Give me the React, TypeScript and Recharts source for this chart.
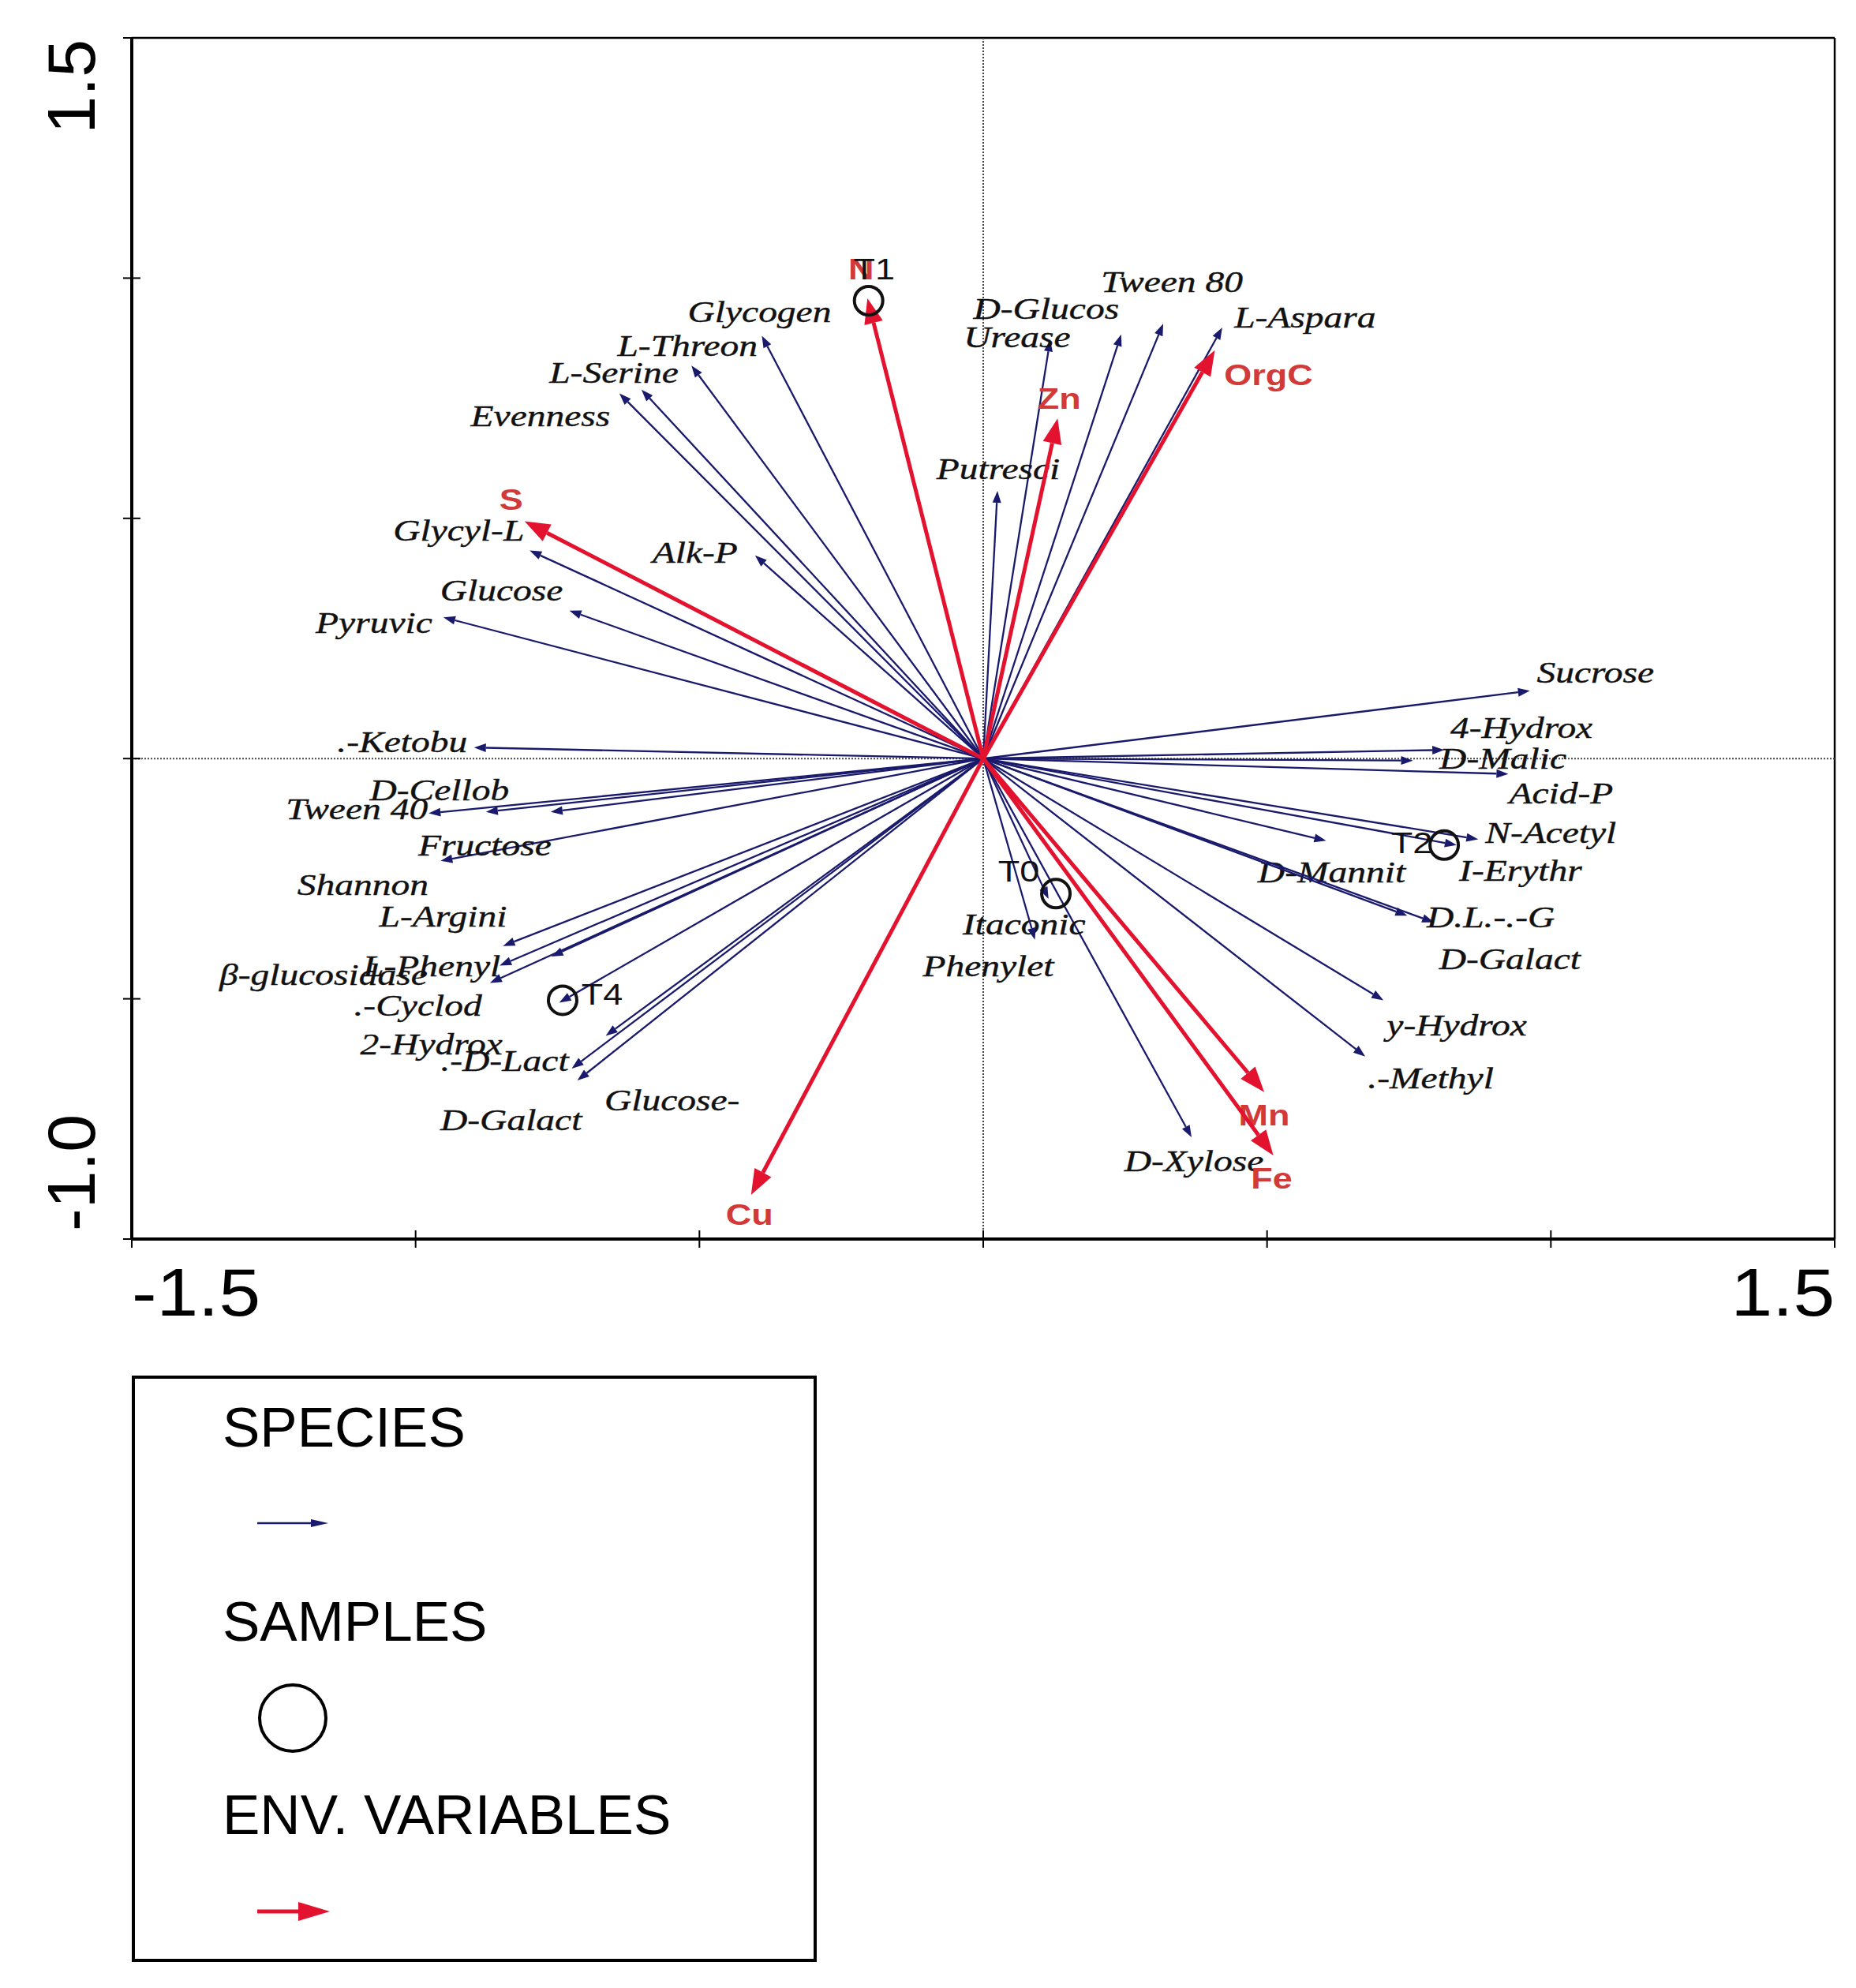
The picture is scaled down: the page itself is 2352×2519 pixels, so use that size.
import React from 'react'
import { ScatterChart, Scatter, XAxis, YAxis, ReferenceLine } from 'recharts'

document.body.style.margin = '0'

const WIDTH = 2352
const HEIGHT = 2519

// species scores (blue arrows)
const speciesNames = [
  'Glycogen', 'L-Threon', 'L-Serine', 'Evenness', 'Glycyl-L', 'Alk-P', 'Glucose', 'Pyruvic',
  '.-Ketobu', 'D-Cellob', 'Tween 40', 'Fructose', 'Shannon', 'L-Argini', 'L-Phenyl', 'β-glucosidase',
  '.-Cyclod', '2-Hydrox', '.-D-Lact', 'Glucose-', 'D-Galact', 'Urease', 'D-Glucos', 'Tween 80',
  'L-Aspara', 'Putresci', 'Sucrose', '4-Hydrox', 'D-Malic', 'Acid-P', 'N-Acetyl', 'I-Erythr',
  'D-Mannit', 'D.L.-.-G', 'D-Galact', 'y-Hydrox', '.-Methyl', 'D-Xylose', 'Itaconic', 'Phenylet',
]
const speciesX = [
  -0.390, -0.514, -0.602, -0.641, -0.799, -0.402, -0.729, -0.951,
  -0.897, -0.876, -0.977, -0.956, -0.762, -0.846, -0.852, -0.869,
  -0.761, -0.747, -0.725, -0.665, -0.715, 0.118, 0.243, 0.317,
  0.421, 0.025, 0.963, 0.812, 0.757, 0.925, 0.872, 0.834,
  0.604, 0.794, 0.747, 0.705, 0.673, 0.367, 0.115, 0.091,
]
const speciesY = [
  0.880, 0.818, 0.768, 0.760, 0.433, 0.423, 0.308, 0.294,
  0.023, -0.111, -0.114, -0.213, -0.111, -0.390, -0.431, -0.467,
  -0.412, -0.508, -0.645, -0.577, -0.670, 0.872, 0.883, 0.905,
  0.897, 0.557, 0.141, 0.018, -0.004, -0.032, -0.168, -0.180,
  -0.171, -0.341, -0.327, -0.503, -0.620, -0.788, -0.292, -0.377,
]

// environmental variables (red arrows)
const envNames = ['N', 'Zn', 'OrgC', 'S', 'Cu', 'Mn', 'Fe']
const envX = [-0.204, 0.131, 0.408, -0.808, -0.409, 0.495, 0.511]
const envY = [0.958, 0.708, 0.850, 0.494, -0.908, -0.694, -0.826]

// samples (circles)
const sampleNames = ['T1', 'T0', 'T2', 'T4']
const sampleX = [-0.202, 0.128, 0.812, -0.741]
const sampleY = [0.953, -0.281, -0.180, -0.503]

const xTicks = [-1.5, -1, -0.5, 0, 0.5, 1, 1.5]
const yTicks = [-1, -0.5, 0, 0.5, 1, 1.5]

// label placement, px from arrow tip / sample centre
const speciesLabelOffset = [
  [-3, -30], [-5, -25], [-35, -21], [-100, 29], [-90, -25], [-76, -3], [-86, -25], [-88, 7],
  [-91, -7], [-59, -28], [-91, -5], [56, -20], [-238, 92], [-76, -37], [-86, 1], [-211, -10],
  [-169, 62], [-162, 53], [-85, -10], [84, 82], [-84, 50], [-42, -3], [-95, -32], [11, -53],
  [105, -13], [1, -28], [83, -23], [98, -28], [114, -2], [67, 25], [92, -8], [81, 32],
  [7, 40], [72, -7], [130, 55], [93, 32], [83, 28], [3, 30], [-31, 32], [-59, 33],
]
const envLabelOffset = [[-8, -36], [2, -25], [68, 32], [-17, -27], [-2, 26], [0, 30], [-2, 30]]
const sampleLabelOffset = [[7, -39], [-47, -28], [-41, -2], [50, -7]]

const BLUE = '#1a1a6c'
const RED = '#e3122e'
const RED_TEXT = '#d23a3a'
const STRETCH = 1.25

function arrowPath(x1: number, y1: number, x2: number, y2: number, head: number, half: number) {
  const a = Math.atan2(y2 - y1, x2 - x1)
  const c = Math.cos(a)
  const s = Math.sin(a)
  const bx = x2 - head * c
  const by = y2 - head * s
  return {
    bx,
    by,
    points: `${x2},${y2} ${bx - s * half},${by + c * half} ${bx + s * half},${by - c * half}`,
  }
}

function speciesShape(i: number) {
  return (p: any) => {
    const { x1, y1, x2, y2 } = p
    const { bx, by, points } = arrowPath(x1, y1, x2, y2, 15, 5.5)
    const [dx, dy] = speciesLabelOffset[i]
    return (
      <g>
        <line x1={x1} y1={y1} x2={bx} y2={by} stroke={BLUE} strokeWidth={2.3} />
        <polygon points={points} fill={BLUE} />
        <text
          transform={`translate(${x2 + dx},${y2 + dy}) scale(${STRETCH},1)`}
          textAnchor="middle"
          dominantBaseline="central"
          fontFamily="'Liberation Serif', 'Times New Roman', serif"
          fontStyle="italic"
          fontSize={38}
          fill="#111"
          stroke="#111"
          strokeWidth={0.4}
        >
          {speciesNames[i]}
        </text>
      </g>
    )
  }
}

function envShape(i: number) {
  return (p: any) => {
    const { x1, y1, x2, y2 } = p
    const { bx, by, points } = arrowPath(x1, y1, x2, y2, 32, 12)
    const [dx, dy] = envLabelOffset[i]
    return (
      <g>
        <line x1={x1} y1={y1} x2={bx} y2={by} stroke={RED} strokeWidth={5} />
        <polygon points={points} fill={RED} />
        <text
          transform={`translate(${x2 + dx},${y2 + dy}) scale(${STRETCH},1)`}
          textAnchor="middle"
          dominantBaseline="central"
          fontFamily="'Liberation Sans', Arial, sans-serif"
          fontWeight="bold"
          fontSize={36}
          fill={RED_TEXT}
        >
          {envNames[i]}
        </text>
      </g>
    )
  }
}

function SampleShape(p: any) {
  const { cx, cy, payload } = p
  const [dx, dy] = sampleLabelOffset[payload.idx]
  return (
    <g>
      <circle cx={cx} cy={cy} r={18} fill="none" stroke="#111" strokeWidth={4} />
      <text
        transform={`translate(${cx + dx},${cy + dy}) scale(${STRETCH},1)`}
        textAnchor="middle"
        dominantBaseline="central"
        fontFamily="'Liberation Sans', Arial, sans-serif"
        fontSize={36}
        fill="#111"
      >
        {payload.name}
      </text>
    </g>
  )
}

function XTick(p: any) {
  const { x, y, payload } = p
  const v = payload.value
  const edge = v === -1.5 || v === 1.5
  return (
    <g>
      <line x1={x} x2={x} y1={y - 11} y2={y + 11} stroke="#000" strokeWidth={2} />
      {edge && (
        <text
          transform={`translate(${x},${y + 97}) scale(1.1,1)`}
          textAnchor={v < 0 ? 'start' : 'end'}
          fontFamily="'Liberation Sans', Arial, sans-serif"
          fontSize={86}
          fill="#000"
        >
          {v.toFixed(1)}
        </text>
      )}
    </g>
  )
}

function YTick(p: any) {
  const { x, y, payload } = p
  const v = payload.value
  const edge = v === -1 || v === 1.5
  return (
    <g>
      <line x1={x - 11} x2={x + 11} y1={y} y2={y} stroke="#000" strokeWidth={2} />
      {edge && (
        <text
          transform={`translate(120,${v > 0 ? y + 2 : y - 10}) rotate(-90)`}
          textAnchor={v > 0 ? 'end' : 'start'}
          fontFamily="'Liberation Sans', Arial, sans-serif"
          fontSize={86}
          fill="#000"
        >
          {v.toFixed(1)}
        </text>
      )}
    </g>
  )
}

function LegendBox() {
  const blue = arrowPath(326, 1930, 416, 1930, 22, 5)
  const red = arrowPath(326, 2422, 418, 2422, 40, 12)
  const font = "'Liberation Sans', Arial, sans-serif"
  return (
    <svg
      width={WIDTH}
      height={HEIGHT}
      style={{ position: 'absolute', left: 0, top: 0, pointerEvents: 'none' }}
    >
      <rect x={169} y={1745} width={864} height={739} fill="none" stroke="#000" strokeWidth={4} />
      <text x={282} y={1833} fontFamily={font} fontSize={71} fill="#000">SPECIES</text>
      <line x1={326} y1={1930} x2={blue.bx} y2={blue.by} stroke={BLUE} strokeWidth={2.3} />
      <polygon points={blue.points} fill={BLUE} />
      <text x={282} y={2079} fontFamily={font} fontSize={71} fill="#000">SAMPLES</text>
      <circle cx={371} cy={2177} r={42} fill="none" stroke="#000" strokeWidth={4} />
      <text x={282} y={2324} fontFamily={font} fontSize={71} fill="#000">ENV. VARIABLES</text>
      <line x1={326} y1={2422} x2={red.bx} y2={red.by} stroke={RED} strokeWidth={5} />
      <polygon points={red.points} fill={RED} />
    </svg>
  )
}

export default function App() {
  const samples = sampleNames.map((name, idx) => ({ name, idx, x: sampleX[idx], y: sampleY[idx] }))

  return (
    <div style={{ position: 'relative', width: WIDTH, height: HEIGHT, background: '#fff' }}>
      <ScatterChart
        width={WIDTH}
        height={HEIGHT}
        margin={{ top: 48, right: 27, bottom: 849, left: 67 }}
      >
        <XAxis
          type="number"
          dataKey="x"
          domain={[-1.5, 1.5]}
          ticks={xTicks}
          allowDataOverflow
          height={100}
          tickSize={0}
          tickMargin={0}
          tickLine={false}
          axisLine={{ stroke: '#000', strokeWidth: 4 }}
          tick={XTick}
          interval={0}
        />
        <YAxis
          type="number"
          dataKey="y"
          domain={[-1, 1.5]}
          ticks={yTicks}
          allowDataOverflow
          width={100}
          tickSize={0}
          tickMargin={0}
          tickLine={false}
          axisLine={{ stroke: '#000', strokeWidth: 4 }}
          tick={YTick}
          interval={0}
        />
        <ReferenceLine y={1.5} stroke="#000" strokeWidth={2.5} />
        <ReferenceLine x={1.5} stroke="#000" strokeWidth={2.5} />
        <ReferenceLine x={0} stroke="#444" strokeWidth={2} strokeDasharray="2 2" />
        <ReferenceLine y={0} stroke="#444" strokeWidth={2} strokeDasharray="2 2" />
        {speciesNames.map((name, i) => (
          <ReferenceLine
            key={`sp-${i}`}
            segment={[{ x: 0, y: 0 }, { x: speciesX[i], y: speciesY[i] }]}
            shape={speciesShape(i)}
          />
        ))}
        {envNames.map((name, i) => (
          <ReferenceLine
            key={`env-${name}`}
            segment={[{ x: 0, y: 0 }, { x: envX[i], y: envY[i] }]}
            shape={envShape(i)}
          />
        ))}
        <Scatter data={samples} shape={SampleShape} isAnimationActive={false} />
      </ScatterChart>
      <LegendBox />
    </div>
  )
}
